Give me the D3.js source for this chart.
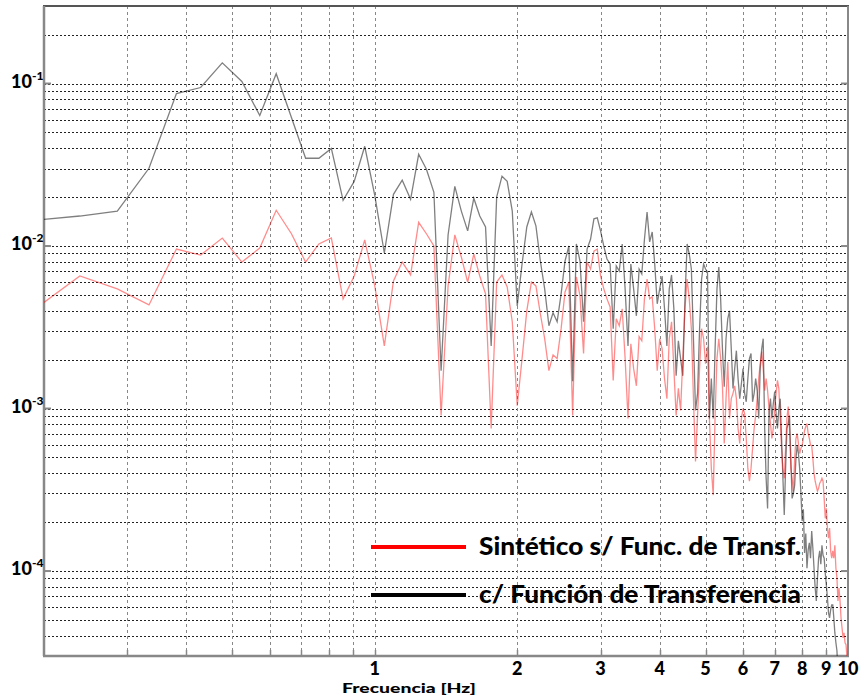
<!DOCTYPE html>
<html>
<head>
<meta charset="utf-8">
<script src="https://cdn.jsdelivr.net/npm/d3@7"></script>
<style>
  body { margin: 0; background: #fff; }
  text { font-family: Lato, "DejaVu Sans", sans-serif; font-weight: 900; fill: #000; }
</style>
</head>
<body>
<svg id="chart" width="867" height="698"></svg>
<script>
// spectrum bins: f = (FIRST_BIN + i) * DF
const DF = 1 / 21;
const FIRST_BIN = 4;

// c/ Función de Transferencia
const conTransf = [
  0.0144, 0.0153, 0.0164, 0.0301, 0.0868, 0.0945, 0.134, 0.103, 0.0636, 0.115,
  0.0618, 0.0347, 0.0347, 0.0399, 0.0191, 0.0250, 0.0411, 0.0205, 0.00906, 0.0208,
  0.0254, 0.0194, 0.0367, 0.0297, 0.0214, 0.00171, 0.0117, 0.0233, 0.0164, 0.0124,
  0.0197, 0.0153, 0.0131, 0.00243, 0.0200, 0.0269, 0.0250, 0.0164, 0.00428, 0.00775,
  0.0131, 0.0162, 0.0133, 0.00809, 0.00545, 0.00323, 0.00388, 0.00342, 0.00508, 0.00809,
  0.0100, 0.00147, 0.0103, 0.00809, 0.00342, 0.00958, 0.0110, 0.0147, 0.0149, 0.0124,
  0.0100, 0.00832, 0.00775, 0.00310, 0.00754, 0.00702, 0.0103, 0.00545, 0.00243, 0.00775,
  0.00545, 0.00372, 0.00722, 0.00673, 0.0110, 0.0162, 0.0106, 0.0122, 0.00775, 0.00441,
  0.00545, 0.00654, 0.00411, 0.00243, 0.00545, 0.00664, 0.00411, 0.00159, 0.00261, 0.00203,
  0.00159, 0.00473, 0.0103, 0.00893, 0.00722, 0.00269, 0.000972, 0.00124, 0.00310, 0.00627,
  0.00775, 0.00722, 0.00692, 0.000868, 0.00153, 0.000868, 0.00233, 0.00545, 0.00743, 0.00473,
  0.00233, 0.00136, 0.00269, 0.00357, 0.00399, 0.00233, 0.00133, 0.00176, 0.00227, 0.00153,
  0.00115, 0.00142, 0.00176, 0.00124, 0.00110, 0.00153, 0.00203, 0.00218, 0.00110, 0.00124,
  0.00153, 0.00129, 0.000868, 0.00176, 0.00233, 0.00269, 0.000754, 0.000372, 0.000243, 0.000958,
  0.00115, 0.000868, 0.00107, 0.00127, 0.000931, 0.000754, 0.00100, 0.00115, 0.000654, 0.000372,
  0.000221, 0.000428, 0.000754, 0.000809, 0.000906, 0.000493, 0.000280, 0.000301, 0.000337, 0.000493,
  0.000593, 0.000529, 0.000428, 0.000301, 0.000203, 0.000240, 0.000129, 0.000170, 0.000104, 0.000135,
  0.000149, 0.000120, 0.000176, 0.000138, 0.000104, 0.0000786, 0.0000654, 0.0000906, 0.000120, 0.000133,
  0.000110, 0.000144, 0.000125, 0.000120, 0.0000972, 0.0000820, 0.0000683, 0.0000552, 0.0000515, 0.0000576,
  0.0000618, 0.0000618, 0.0000515, 0.0000416, 0.0000362, 0.0000323, 0.0000237, 0.0000166, 0.0000125, 0.0000100
];

// Sintético s/ Func. de Transf.
const sinTransf = [
  0.00405, 0.00654, 0.00545, 0.00434, 0.00958, 0.00880, 0.0112, 0.00797, 0.00972, 0.0166,
  0.0119, 0.00797, 0.0103, 0.0112, 0.00473, 0.00654, 0.0109, 0.00568, 0.00243, 0.00610,
  0.00797, 0.00664, 0.0140, 0.0119, 0.0100, 0.000906, 0.00568, 0.0117, 0.00856, 0.00600,
  0.00893, 0.00654, 0.00508, 0.000754, 0.00600, 0.00664, 0.00560, 0.00342, 0.00104, 0.00203,
  0.00399, 0.00600, 0.00568, 0.00383, 0.00269, 0.00171, 0.00214, 0.00203, 0.00310, 0.00522,
  0.00600, 0.000906, 0.00645, 0.00493, 0.00218, 0.00797, 0.00722, 0.00931, 0.00958, 0.00654,
  0.00545, 0.00473, 0.00422, 0.00149, 0.00357, 0.00323, 0.00411, 0.00203, 0.000868, 0.00250,
  0.00176, 0.00138, 0.00277, 0.00261, 0.00473, 0.00627, 0.00473, 0.00487, 0.00310, 0.00171,
  0.00269, 0.00233, 0.00153, 0.00115, 0.00269, 0.00342, 0.00176, 0.000906, 0.00133, 0.000972,
  0.00203, 0.00411, 0.00627, 0.00473, 0.00310, 0.00115, 0.000473, 0.000906, 0.00176, 0.00310,
  0.00269, 0.00189, 0.00240, 0.000868, 0.000428, 0.000293, 0.000906, 0.00203, 0.00269, 0.00203,
  0.00138, 0.000610, 0.00115, 0.00194, 0.000868, 0.00115, 0.00124, 0.00138, 0.00115, 0.000754,
  0.000610, 0.000868, 0.00100, 0.000931, 0.000654, 0.000428, 0.000357, 0.000428, 0.000568, 0.000754,
  0.000906, 0.00115, 0.00153, 0.00189, 0.00224, 0.00176, 0.00129, 0.00153, 0.00129, 0.00100,
  0.000809, 0.000654, 0.000754, 0.00100, 0.00124, 0.00149, 0.00133, 0.000868, 0.000568, 0.000428,
  0.000372, 0.000568, 0.000868, 0.00103, 0.000754, 0.000428, 0.000372, 0.000310, 0.000493, 0.000654,
  0.000702, 0.000610, 0.000529, 0.000568, 0.000593, 0.000654, 0.000733, 0.000775, 0.000809, 0.000702,
  0.000654, 0.000593, 0.000593, 0.000493, 0.000399, 0.000357, 0.000332, 0.000310, 0.000323, 0.000347,
  0.000357, 0.000372, 0.000357, 0.000280, 0.000211, 0.000243, 0.000184, 0.000159, 0.000184, 0.000133,
  0.000120, 0.000133, 0.000120, 0.000144, 0.000104, 0.0000906, 0.0000654, 0.0000786, 0.0000654, 0.0000515,
  0.0000447, 0.0000388, 0.0000416, 0.0000362, 0.0000352, 0.0000293, 0.0000254
];

const xTickValues = [1, 2, 3, 4, 5, 6, 7, 8, 9, 10];
const yMajorValues = [1e-1, 1e-2, 1e-3, 1e-4];
const yMajorExp = ["-1", "-2", "-3", "-4"];
const legendLabels = ["Sintético s/ Func. de Transf.", "c/ Función de Transferencia"];
const legendColors = ["#ff0000", "#000000"];
const xTitle = "Frecuencia [Hz]";

let svg = d3.select("#chart");
let margin = {top: 6, right: 19, bottom: 42, left: 44};
let width = +svg.attr("width") - margin.left - margin.right;
let height = +svg.attr("height") - margin.top - margin.bottom;

let x = d3.scaleLog().domain([0.2, 10]).range([margin.left, margin.left + width]);
let y = d3.scaleLog().domain([3e-5, 0.3]).range([margin.top + height, margin.top]);

let toPoints = arr => arr.map((v, i) => ({f: (FIRST_BIN + i) * DF, v: v}));

svg.append("clipPath").attr("id", "plotClip")
  .append("rect")
  .attr("x", margin.left).attr("y", margin.top)
  .attr("width", width).attr("height", height);

// grid
let grid = svg.append("g");
grid.selectAll("line.h")
  .data(y.ticks().filter(t => t > 3.01e-5 && t < 0.299))
  .enter().append("line")
  .attr("x1", margin.left).attr("x2", margin.left + width)
  .attr("y1", d => Math.round(y(d)) + 0.5).attr("y2", d => Math.round(y(d)) + 0.5)
  .attr("stroke", "#222").attr("stroke-width", 1).attr("stroke-dasharray", "2,2");

grid.selectAll("line.v")
  .data(x.ticks().filter(t => t > 0.201 && t < 9.99))
  .enter().append("line")
  .attr("x1", d => Math.round(x(d)) + 0.5).attr("x2", d => Math.round(x(d)) + 0.5)
  .attr("y1", margin.top).attr("y2", margin.top + height)
  .attr("stroke", "#888").attr("stroke-width", 1).attr("stroke-dasharray", "3,3");

// small solid ticks
grid.selectAll("line.bt")
  .data(x.ticks().filter(t => t > 0.201 && t < 9.99))
  .enter().append("line")
  .attr("x1", d => Math.round(x(d)) + 0.5).attr("x2", d => Math.round(x(d)) + 0.5)
  .attr("y1", margin.top + height - 6).attr("y2", margin.top + height)
  .attr("stroke", "#888").attr("stroke-width", 1.5);

yMajorValues.forEach(v => {
  grid.append("line").attr("x1", margin.left).attr("x2", margin.left + 7)
    .attr("y1", y(v)).attr("y2", y(v)).attr("stroke", "#888").attr("stroke-width", 2);
  grid.append("line").attr("x1", margin.left + width - 7).attr("x2", margin.left + width)
    .attr("y1", y(v)).attr("y2", y(v)).attr("stroke", "#888").attr("stroke-width", 2);
});

// frame
svg.append("line").attr("x1", margin.left - 1).attr("x2", margin.left + width + 1)
  .attr("y1", margin.top).attr("y2", margin.top).attr("stroke", "#555").attr("stroke-width", 2);
svg.append("line").attr("x1", margin.left - 1).attr("x2", margin.left + width + 1)
  .attr("y1", margin.top + height).attr("y2", margin.top + height).attr("stroke", "#888").attr("stroke-width", 2.5);
svg.append("line").attr("x1", margin.left).attr("x2", margin.left)
  .attr("y1", margin.top).attr("y2", margin.top + height).attr("stroke", "#888").attr("stroke-width", 2.5);
svg.append("line").attr("x1", margin.left + width).attr("x2", margin.left + width)
  .attr("y1", margin.top).attr("y2", margin.top + height).attr("stroke", "#888").attr("stroke-width", 2);

// series
let line = d3.line().x(d => x(d.f)).y(d => y(d.v));
let plot = svg.append("g").attr("clip-path", "url(#plotClip)");

plot.append("path")
  .datum(toPoints(conTransf))
  .attr("d", line)
  .attr("fill", "none")
  .attr("stroke", "#000")
  .attr("stroke-opacity", 0.5)
  .attr("stroke-width", 1.3);

plot.append("path")
  .datum(toPoints(sinTransf))
  .attr("d", line)
  .attr("fill", "none")
  .attr("stroke", "#ff0000")
  .attr("stroke-opacity", 0.45)
  .attr("stroke-width", 1.3);

// y labels
let yl = svg.append("g").selectAll("g")
  .data(yMajorValues)
  .enter().append("g");
yl.append("text")
  .attr("x", 32).attr("y", d => y(d) + 4)
  .attr("text-anchor", "end")
  .attr("font-size", 18)
  .text("10");
yl.append("text")
  .attr("x", 32).attr("y", d => y(d) - 4)
  .attr("font-size", 12)
  .text((d, i) => yMajorExp[i]);

// x labels
svg.append("g").selectAll("text")
  .data(xTickValues)
  .enter().append("text")
  .attr("x", d => x(d))
  .attr("y", 675)
  .attr("text-anchor", "middle")
  .attr("font-size", 18)
  .text(d => d);

svg.append("text")
  .attr("x", 409).attr("y", 693)
  .attr("text-anchor", "middle")
  .attr("font-size", 14)
  .attr("textLength", 134)
  .attr("lengthAdjust", "spacingAndGlyphs")
  .text(xTitle);

// legend
let legend = svg.append("g").selectAll("g")
  .data(legendLabels)
  .enter().append("g")
  .attr("transform", (d, i) => "translate(0," + (547 + i * 48) + ")");

legend.append("line")
  .attr("x1", 371).attr("x2", 466)
  .attr("y1", 0).attr("y2", 0)
  .attr("stroke", (d, i) => legendColors[i])
  .attr("stroke-width", 4);

legend.append("text")
  .attr("x", 479).attr("y", 8)
  .attr("font-size", 25)
  .attr("textLength", 322)
  .attr("lengthAdjust", "spacingAndGlyphs")
  .text(d => d);
</script>
</body>
</html>
